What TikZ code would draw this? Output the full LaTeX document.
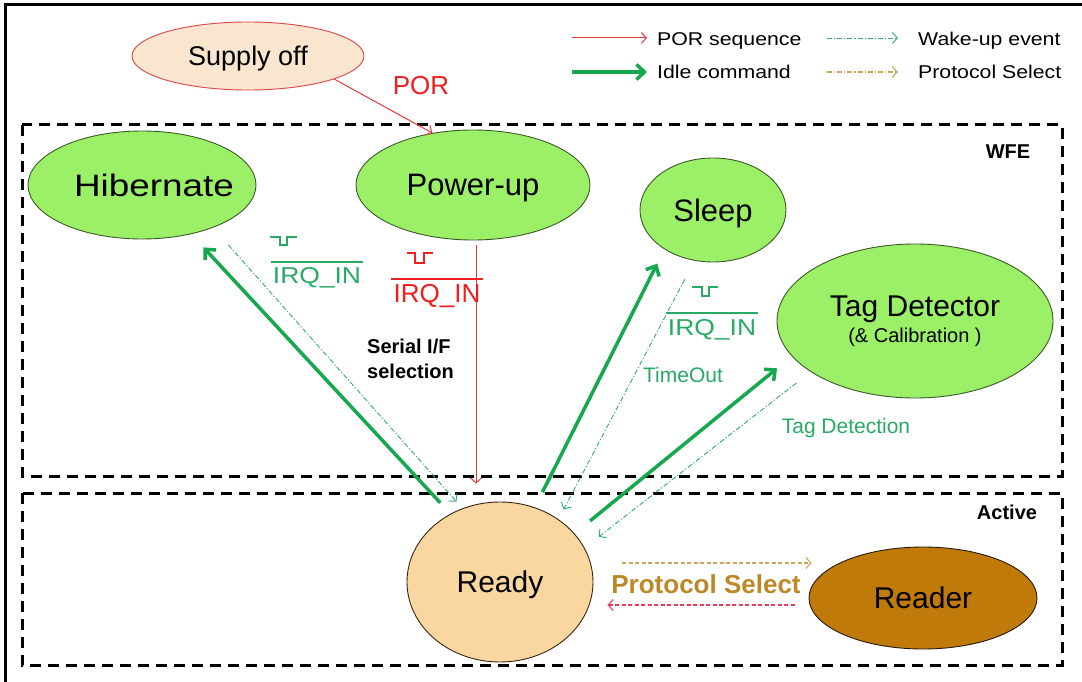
\documentclass[tikz,border=0pt]{standalone}
\usepackage{fontspec}
\setmainfont{Liberation Sans}
\newfontfamily\widefont[FakeStretch=1.15]{Liberation Sans}
\newfontfamily\widerfont[FakeStretch=1.19]{Liberation Sans}
\usetikzlibrary{shapes.geometric,arrows.meta,calc}
\definecolor{stategreen}{RGB}{156,240,104}
\definecolor{stateborder}{RGB}{60,90,40}
\definecolor{readyfill}{RGB}{250,215,160}
\definecolor{readerfill}{RGB}{192,122,10}
\definecolor{supplyfill}{RGB}{250,229,206}
\definecolor{supplyborder}{RGB}{225,70,70}
\definecolor{idlegreen}{RGB}{22,168,78}
\definecolor{wakegreen}{RGB}{50,170,120}
\definecolor{labelgreen}{RGB}{40,170,100}
\definecolor{porred}{RGB}{225,60,60}
\definecolor{portext}{RGB}{240,30,30}
\definecolor{prototan}{RGB}{205,165,95}
\definecolor{prototext}{RGB}{188,136,40}
\definecolor{protored}{RGB}{235,60,90}
\newcommand\fsz[2]{\fontsize{#1}{#2}\selectfont}
\begin{document}
\begin{tikzpicture}[x=1pt,y=-1pt,
  state/.style={ellipse, inner sep=0pt, line width=0.9pt, text=black, text depth=0pt},
  greenstate/.style={state, draw=stateborder, fill=stategreen},
  idle/.style={draw=idlegreen, line width=3.5pt, -{Straight Barb[length=8pt,width=15pt]}},
  wake/.style={draw=wakegreen, line width=0.9pt, dash pattern=on 5pt off 2pt on 1.2pt off 2pt, -{Straight Barb[length=5pt,width=11pt]}},
  por/.style={draw=porred, line width=1pt, -{Straight Barb[length=5pt,width=11pt]}},
  proto/.style={draw=prototan, line width=1.1pt, dash pattern=on 4pt off 2.5pt, -{Straight Barb[length=5pt,width=11pt]}},
  protoback/.style={proto, draw=protored},
  region/.style={draw=black, line width=3pt, dash pattern=on 11pt off 7pt},
  pulse/.style={line width=1.4pt},
  irq/.style={inner xsep=2pt, inner ysep=0pt},
  plain/.style={inner sep=0pt},
]
\useasboundingbox (0,0) rectangle (1082,682);
\fill[white] (0,0) rectangle (1082,682);
\draw[line width=3pt] (5,682) -- (5,5) -- (1082,5);

% regions
\draw[region] (22,125) rectangle (1062,476);
\draw[region] (22,493) rectangle (1062,665);
\node[plain, font=\bfseries\fsz{20}{24}] (wfe) at (1008,152) {WFE};
\node[plain, font=\bfseries\fsz{20}{24}] (active) at (1007,512) {Active};

% states
\node[state, draw=supplyborder, fill=supplyfill, minimum width=232pt, minimum height=68pt, font=\fsz{27}{32}] (supply) at (248,56) {Supply off};
\node[greenstate, minimum width=228pt, minimum height=108pt] (hib) at (142,185) {};
\node[plain, font=\widerfont\fsz{31}{36}] (hibtext) at ([xshift=12pt]hib.center) {Hibernate};
\node[greenstate, minimum width=234pt, minimum height=110pt, font=\fsz{31}{36}] (pwr) at (473,185) {Power-up};
\node[greenstate, minimum width=146pt, minimum height=104pt, font=\fsz{31}{36}] (sleep) at (713,210) {Sleep};
\node[greenstate, minimum width=276pt, minimum height=154pt] (tag) at (915,321) {};
\node[plain, anchor=base, font=\fsz{30}{36}] (tagtitle) at (915,316) {Tag Detector};
\node[plain, anchor=base, font=\fsz{20}{24}] (tagsub) at (915,342) {(\& Calibration )};
\node[state, draw=black!70!brown, fill=readyfill, minimum width=186pt, minimum height=160pt, font=\fsz{30}{36}] (ready) at (500,582) {Ready};
\node[state, draw=black!80!brown, fill=readerfill, minimum width=228pt, minimum height=102pt, font=\fsz{30}{36}] (reader) at (923,598) {Reader};

% POR sequence
\draw[por] (supply.-15.9) -- (pwr.128.3);
\node[plain, text=portext, font=\fsz{26}{30}] (porlbl) at (421,86) {POR};
\draw[por] ([xshift=3pt,yshift=-5pt]pwr.south) -- ([xshift=-24pt,yshift=18pt]ready.north);

% idle commands
\draw[idle, shorten <=15pt, shorten >=18pt] (ready.126) -- (hib.-45.5);
\draw[idle, shorten <=17pt, shorten >=16pt] (ready.65) -- (sleep.-141.6);
\draw[idle, shorten <=20pt, shorten >=19pt] (ready.33.9) -- (tag.-164.6);

% wake-up events
\draw[wake, shorten <=23pt, shorten >=9pt] (hib.-31.6) -- (ready.117.7);
\draw[wake, shorten <=21pt, shorten >=11pt] (sleep.-110.9) -- (ready.47.1);
\draw[wake, shorten <=18pt, shorten >=18pt] (tag.-154.4) -- (ready.22.1);

% protocol select
\draw[proto] ([xshift=29pt,yshift=19pt]ready.east) -- ([xshift=3pt,yshift=35pt]reader.west);
\draw[protoback] ([xshift=-14pt,yshift=-7pt]reader.west) -- ([xshift=14pt,yshift=-23pt]ready.east);
\node[plain, text=prototext, font=\bfseries\fsz{26}{30}] (protolbl) at (706,584) {Protocol Select};

% IRQ labels
\node[irq, anchor=base, text=labelgreen, font=\widefont\fsz{23}{28}] (irqa) at (317,283) {IRQ\_IN};
\draw[labelgreen, line width=1.2pt] ([yshift=21pt]irqa.base west) -- ([yshift=21pt]irqa.base east);
\draw[labelgreen, pulse] (270,237) -- (280,237) -- (280,245) -- (287,245) -- (287,237) -- (297,237);

\node[irq, anchor=base, text=portext, font=\fsz{26}{30}] (irqb) at (437,302) {IRQ\_IN};
\draw[portext, line width=1.2pt] ([yshift=23pt]irqb.base west) -- ([yshift=23pt]irqb.base east);
\draw[portext, pulse] (407,253) -- (415,253) -- (415,263) -- (424,263) -- (424,253) -- (433,253);

\node[irq, anchor=base, text=labelgreen, font=\widefont\fsz{23}{28}] (irqc) at (712,335) {IRQ\_IN};
\draw[labelgreen, line width=1.2pt] ([yshift=22pt]irqc.base west) -- ([yshift=22pt]irqc.base east);
\draw[labelgreen, pulse] (692,287) -- (702,287) -- (702,296) -- (709,296) -- (709,287) -- (718,287);

% other labels
\node[plain, anchor=base west, font=\bfseries\fsz{20}{24}] (serial1) at (367,353) {Serial I/F};
\node[plain, anchor=base west, font=\bfseries\fsz{20}{24}] (serial2) at (367,378) {selection};
\node[plain, anchor=base, text=labelgreen, font=\fsz{21}{25}] (timeout) at (683,382) {TimeOut};
\node[plain, anchor=base, text=labelgreen, font=\fsz{21}{25}] (tagdet) at (846,433) {Tag Detection};

% legend
\coordinate (lga) at (572,38); \coordinate (lgb) at (647,38);
\coordinate (lgc) at (572,72); \coordinate (lgd) at (647,72);
\coordinate (lge) at (827,38); \coordinate (lgf) at (898,38);
\coordinate (lgg) at (827,72); \coordinate (lgh) at (898,72);
\draw[por] (lga) -- (lgb);
\draw[idle] (lgc) -- (lgd);
\draw[wake] (lge) -- (lgf);
\draw[proto, dash pattern=on 5pt off 2pt on 1.2pt off 2pt] (lgg) -- (lgh);
\node[plain, anchor=base west, font=\widefont\fsz{18.5}{22}] (lgt1) at (657,46) {POR sequence};
\node[plain, anchor=base west, font=\widefont\fsz{18.5}{22}] (lgt2) at (657,79) {Idle command};
\node[plain, anchor=base west, font=\widefont\fsz{18.5}{22}] (lgt3) at (918,46) {Wake-up event};
\node[plain, anchor=base west, font=\widefont\fsz{18.5}{22}] (lgt4) at (918,79) {Protocol Select};
\end{tikzpicture}
\end{document}
